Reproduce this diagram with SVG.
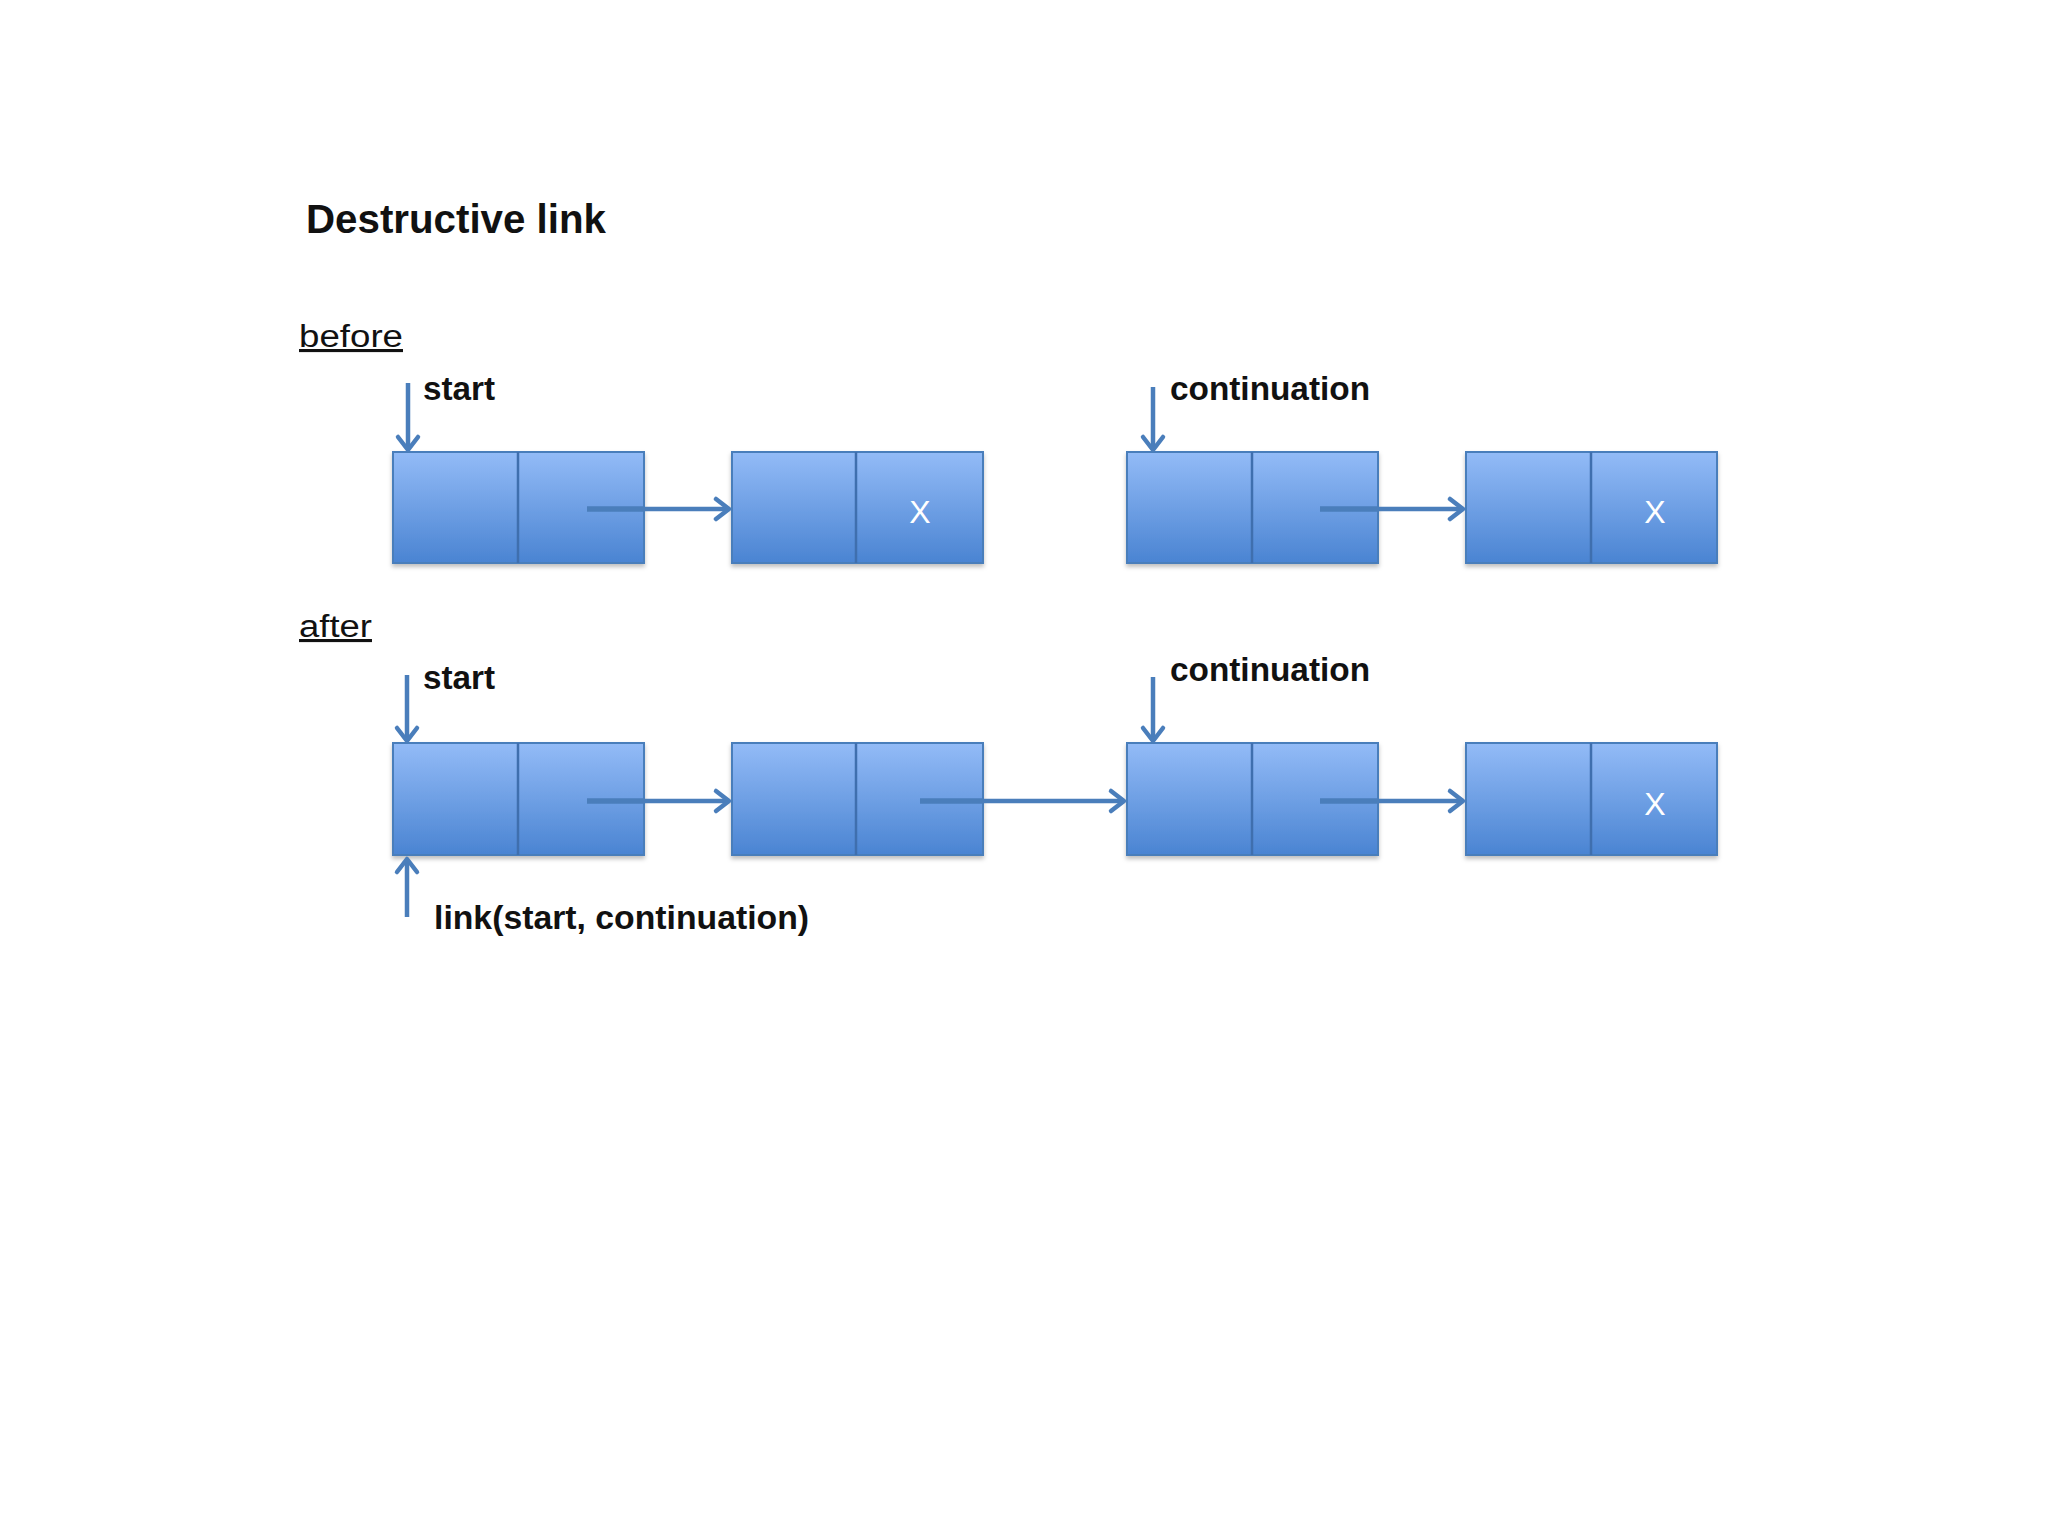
<svg xmlns="http://www.w3.org/2000/svg" width="2048" height="1536" viewBox="0 0 2048 1536">
  <style>
    .lbl { font-family: "Liberation Sans", Arial, sans-serif; fill: #111; }
    .b { font-weight: bold; font-size: 33px; }
    .sec { font-size: 31px; text-decoration: underline; }
    .x { font-family: "Liberation Sans", Arial, sans-serif; font-size: 32px; fill: #fff; text-anchor: middle; }
    .cell { fill: url(#boxGrad); stroke: #4a7ebb; stroke-width: 2; filter: url(#shadow); }
    .div { stroke: #3f6fae; stroke-width: 2.5; }
    .con { stroke: #4a7ebb; stroke-width: 4.5; fill: none; }
    .ptr { stroke: #4a7ebb; stroke-width: 5.5; fill: none; }
  </style>
  <defs>
    <linearGradient id="boxGrad" x1="0" y1="0" x2="0" y2="1">
      <stop offset="0" stop-color="#93bbf7"/>
      <stop offset="1" stop-color="#4a84d2"/>
    </linearGradient>
    <filter id="shadow" x="-5%" y="-5%" width="110%" height="120%">
      <feDropShadow dx="0" dy="3" stdDeviation="2" flood-color="#000" flood-opacity="0.25"/>
    </filter>
    <marker id="ah" markerUnits="userSpaceOnUse" markerWidth="30" markerHeight="30" refX="0" refY="0" viewBox="-20 -15 30 30" orient="auto" overflow="visible">
      <path d="M-13,-10 L0,0 L-13,10" fill="none" stroke="#4a7ebb" stroke-width="4.5" stroke-linecap="round" stroke-linejoin="round"/>
    </marker>
  </defs>
  <rect x="0" y="0" width="2048" height="1536" fill="#ffffff"/>

  <text class="lbl" x="306" y="233" font-size="40" font-weight="bold" textLength="300" lengthAdjust="spacingAndGlyphs">Destructive link</text>
  <text class="lbl sec" x="299" y="347" textLength="104" lengthAdjust="spacingAndGlyphs">before</text>
  <text class="lbl sec" x="299" y="637" textLength="73" lengthAdjust="spacingAndGlyphs">after</text>

  <!-- before row -->
  <g id="b1"><rect class="cell" x="393" y="452" width="251" height="111"/><line class="div" x1="518" y1="452" x2="518" y2="563"/></g>
  <g id="b2"><rect class="cell" x="732" y="452" width="251" height="111"/><line class="div" x1="856" y1="452" x2="856" y2="563"/><text class="x" x="920" y="523">X</text></g>
  <g id="b3"><rect class="cell" x="1127" y="452" width="251" height="111"/><line class="div" x1="1252" y1="452" x2="1252" y2="563"/></g>
  <g id="b4"><rect class="cell" x="1466" y="452" width="251" height="111"/><line class="div" x1="1591" y1="452" x2="1591" y2="563"/><text class="x" x="1655" y="523">X</text></g>

  <!-- after row -->
  <g id="a1"><rect class="cell" x="393" y="743" width="251" height="112"/><line class="div" x1="518" y1="743" x2="518" y2="855"/></g>
  <g id="a2"><rect class="cell" x="732" y="743" width="251" height="112"/><line class="div" x1="856" y1="743" x2="856" y2="855"/></g>
  <g id="a3"><rect class="cell" x="1127" y="743" width="251" height="112"/><line class="div" x1="1252" y1="743" x2="1252" y2="855"/></g>
  <g id="a4"><rect class="cell" x="1466" y="743" width="251" height="112"/><line class="div" x1="1591" y1="743" x2="1591" y2="855"/><text class="x" x="1655" y="815">X</text></g>

  <g id="labels">
    <text class="lbl b" x="423" y="400" textLength="72" lengthAdjust="spacingAndGlyphs">start</text>
    <text class="lbl b" x="1170" y="400" textLength="200" lengthAdjust="spacingAndGlyphs">continuation</text>
    <text class="lbl b" x="423" y="689" textLength="72" lengthAdjust="spacingAndGlyphs">start</text>
    <text class="lbl b" x="1170" y="681" textLength="200" lengthAdjust="spacingAndGlyphs">continuation</text>
    <text class="lbl b" x="434" y="929" textLength="375" lengthAdjust="spacingAndGlyphs">link(start, continuation)</text>
  </g>

  <g id="connectors">
    <line class="ptr" x1="587" y1="509" x2="644" y2="509"/>
    <line class="con" x1="644" y1="509" x2="729" y2="509" marker-end="url(#ah)"/>
    <line class="ptr" x1="1320" y1="509" x2="1378" y2="509"/>
    <line class="con" x1="1378" y1="509" x2="1463" y2="509" marker-end="url(#ah)"/>

    <line class="ptr" x1="587" y1="801" x2="644" y2="801"/>
    <line class="con" x1="644" y1="801" x2="729" y2="801" marker-end="url(#ah)"/>
    <line class="ptr" x1="920" y1="801" x2="983" y2="801"/>
    <line class="con" x1="983" y1="801" x2="1124" y2="801" marker-end="url(#ah)"/>
    <line class="ptr" x1="1320" y1="801" x2="1378" y2="801"/>
    <line class="con" x1="1378" y1="801" x2="1463" y2="801" marker-end="url(#ah)"/>

    <line class="con" x1="408" y1="383" x2="408" y2="450" marker-end="url(#ah)"/>
    <line class="con" x1="1153" y1="387" x2="1153" y2="450" marker-end="url(#ah)"/>
    <line class="con" x1="407" y1="675" x2="407" y2="741" marker-end="url(#ah)"/>
    <line class="con" x1="1153" y1="677" x2="1153" y2="741" marker-end="url(#ah)"/>
    <line class="con" x1="407" y1="917" x2="407" y2="859" marker-end="url(#ah)"/>
  </g>
</svg>
